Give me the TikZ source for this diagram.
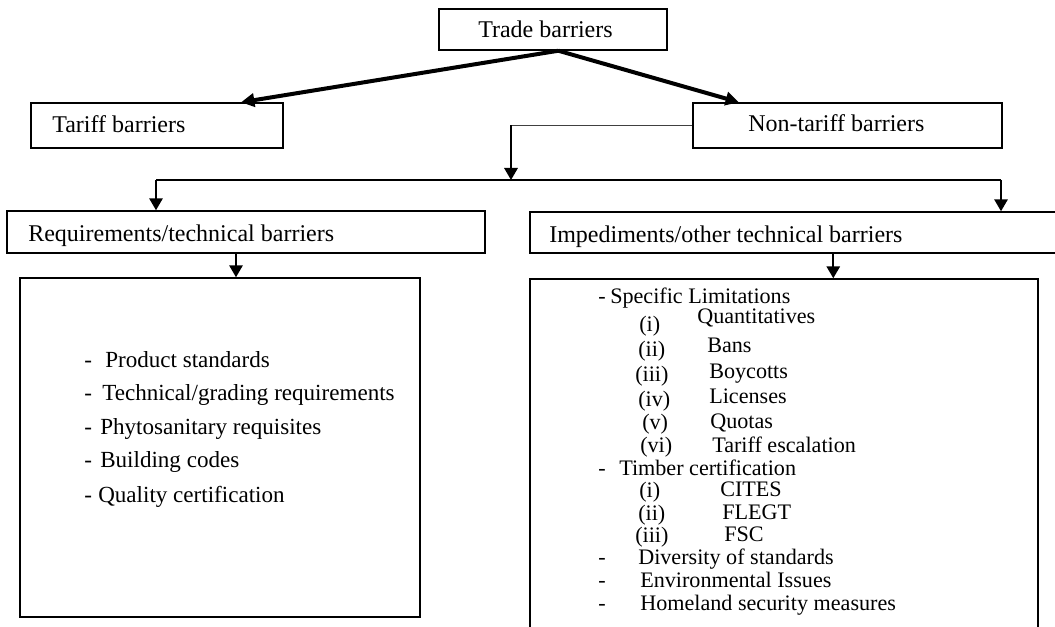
\documentclass[tikz,border=0pt]{standalone}
\usepackage{fontspec}
\setmainfont{Liberation Serif}
\usetikzlibrary{arrows.meta}
\begin{document}
\begin{tikzpicture}[x=0.75pt,y=-0.75pt,
  boxnode/.style={draw=black, line width=1.1pt, inner sep=0pt, rectangle},
  lbl/.style={anchor=base west, inner sep=0pt, font=\fontsize{18}{20}\selectfont},
  itm/.style={anchor=base west, inner sep=0pt, font=\fontsize{17.3}{19}\selectfont},
  ritm/.style={anchor=base west, inner sep=0pt, font=\fontsize{16.6}{18}\selectfont},
  thickarr/.style={line width=3pt, -{Triangle[length=10pt,width=10pt]}},
  droparr/.style={line width=1.6pt, -{Triangle[length=9pt,width=10pt]}},
  thinline/.style={line width=0.8pt, draw=black!75},
  midline/.style={line width=1.2pt}
  ]
\useasboundingbox (0,0) rectangle (1055,627);
\fill[white] (0,0) rectangle (1055,627);
\clip (0,0) rectangle (1055,627);

% boxes
\node[boxnode, minimum width=171pt, minimum height=30.75pt] (trade) at (553,29.5) {};
\node[boxnode, minimum width=189pt, minimum height=33.75pt] (tariff) at (157,125.5) {};
\node[boxnode, minimum width=231.75pt, minimum height=33.75pt] (nontariff) at (847.5,125.5) {};
\node[boxnode, minimum width=358.5pt, minimum height=31.5pt] (req) at (246,232) {};
\node[boxnode, minimum width=401.25pt, minimum height=30.75pt] (imp) at (797.5,232.5) {};
\node[boxnode, minimum width=300pt, minimum height=254.25pt] (lbox) at (220,447.5) {};
\node[boxnode, minimum width=381pt, minimum height=270.75pt] (rbox) at (784,459.5) {};

% box labels
\node[lbl] (tradetxt) at (478,38) {Trade barriers};
\node[lbl] (tarifftxt) at (52,133) {Tariff barriers};
\node[lbl] (nontarifftxt) at (748,132) {Non-tariff barriers};
\node[lbl] (reqtxt) at (28,242) {Requirements/technical barriers};
\node[lbl] (imptxt) at (549,243) {Impediments/other technical barriers};

% left list
\node[itm] (ld1) at (84,367) {-};  \node[itm] (lt1) at (105,367) {Product standards};
\node[itm] (ld2) at (84,400) {-};  \node[itm] (lt2) at (102,400) {Technical/grading requirements};
\node[itm] (ld3) at (84,434) {-};  \node[itm] (lt3) at (100,434) {Phytosanitary requisites};
\node[itm] (ld4) at (84,467) {-};  \node[itm] (lt4) at (100,467) {Building codes};
\node[itm] (ld5) at (84,502) {-};  \node[itm] (lt5) at (98,502) {Quality certification};

% right list
\node[ritm] (rd1) at (598,303) {-};  \node[ritm] (rt1) at (610,303) {Specific Limitations};
\node[ritm] (rn1) at (639,331) {(i)};   \node[ritm] (rs1) at (697,323) {Quantitatives};
\node[ritm] (rn2) at (638,356) {(ii)};  \node[ritm] (rs2) at (707,352) {Bans};
\node[ritm] (rn3) at (635,381) {(iii)}; \node[ritm] (rs3) at (709,378) {Boycotts};
\node[ritm] (rn4) at (638,406) {(iv)};  \node[ritm] (rs4) at (709,403) {Licenses};
\node[ritm] (rn5) at (642,429) {(v)};   \node[ritm] (rs5) at (710,428) {Quotas};
\node[ritm] (rn6) at (640,452) {(vi)};  \node[ritm] (rs6) at (712,452) {Tariff escalation};
\node[ritm] (rd2) at (598,475) {-};  \node[ritm] (rt2) at (619,475) {Timber certification};
\node[ritm] (rc1) at (639,497) {(i)};   \node[ritm] (rcs1) at (720,496) {CITES};
\node[ritm] (rc2) at (638,520) {(ii)};  \node[ritm] (rcs2) at (722,519) {FLEGT};
\node[ritm] (rc3) at (635,542) {(iii)}; \node[ritm] (rcs3) at (724,541) {FSC};
\node[ritm] (rd3) at (598,564) {-};  \node[ritm] (rt3) at (638,564) {Diversity of standards};
\node[ritm] (rd4) at (598,587) {-};  \node[ritm] (rt4) at (640,587) {Environmental Issues};
\node[ritm] (rd5) at (598,610) {-};  \node[ritm] (rt5) at (640,610) {Homeland security measures};

% connectors
\draw[thickarr] ([xshift=4pt]trade.south) -- ([xshift=-32pt]tariff.north east);
\draw[thickarr] ([xshift=4pt]trade.south) -- ([xshift=35pt]nontariff.north west);

\coordinate (bend) at (511,125.5);
\coordinate (hub) at (511,180);
\coordinate (hl) at (156,180);
\coordinate (hr) at (1001,180);
\draw[thinline] (nontariff.west) -- (bend);
\draw[droparr] (bend) -- (hub);
\draw[midline] (hl) -- (hr);
\draw[droparr] (hl) -- (hl |- req.north);
\draw[droparr] (hr) -- (hr |- imp.north);
\draw[droparr] ([xshift=-7.5pt]req.south) -- ([xshift=-7.5pt]req.south |- lbox.north);
\draw[droparr] ([xshift=228pt]imp.south west) -- ([xshift=228pt]imp.south west |- rbox.north);
\end{tikzpicture}
\end{document}
